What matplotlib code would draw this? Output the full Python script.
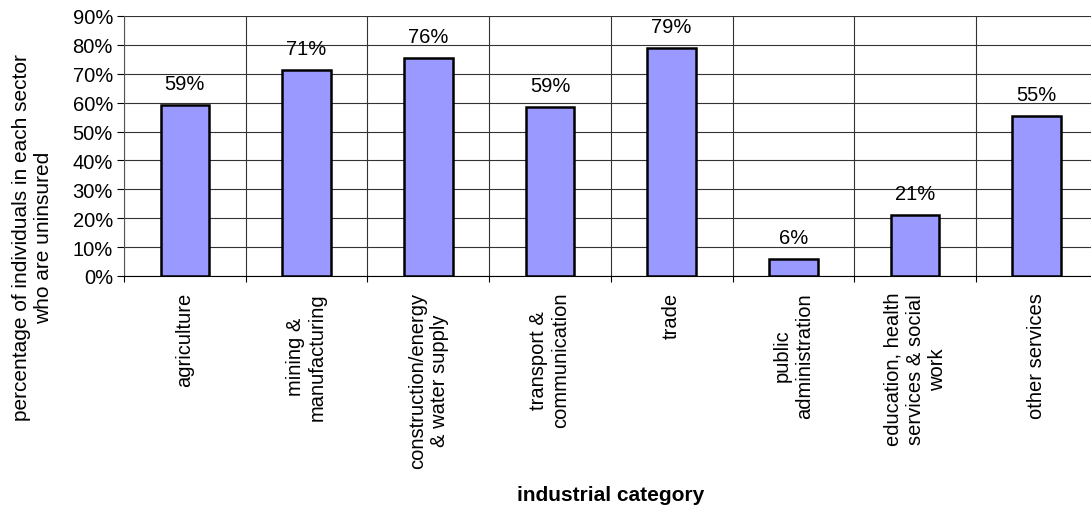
import numpy as np
import matplotlib
matplotlib.use("Agg")
import matplotlib.pyplot as plt
from matplotlib.ticker import PercentFormatter, FixedLocator

plt.rcParams["font.family"] = ["Liberation Sans", "DejaVu Sans"]

categories = [
    "agriculture",
    "mining &\nmanufacturing",
    "construction/energy\n& water supply",
    "transport &\ncommunication",
    "trade",
    "public\nadministration",
    "education, health\nservices & social\nwork",
    "other services",
]
values = [59.2, 71.2, 75.6, 58.6, 78.9, 5.9, 21.1, 55.4]
labels = ["59%", "71%", "76%", "59%", "79%", "6%", "21%", "55%"]

W, H = 1091, 506
fig = plt.figure(figsize=(W / 100, H / 100), dpi=100)
ax = fig.add_axes([124 / W, 1 - 277 / H, (1097.6 - 124) / W, 260 / H])

x = np.arange(len(categories))
ax.bar(x, values, width=0.4, color="#9999FF", edgecolor="black", linewidth=1.8, zorder=3)

for xi, v, lab in zip(x, values, labels):
    ax.annotate(lab, (xi, v), xytext=(0, 11.5), textcoords="offset points",
                ha="center", va="baseline", fontsize=14.5)

ax.set_xlim(-0.5, len(categories) - 0.5)
ax.set_ylim(0, 90)
ax.set_yticks(np.arange(0, 91, 10))
ax.yaxis.set_major_formatter(PercentFormatter(decimals=0))

ax.set_xticks(x)
ax.set_xticklabels(categories, rotation=90, ha="center", va="top", multialignment="center")
ax.xaxis.set_minor_locator(FixedLocator(np.arange(-0.5, len(categories), 1.0)))
ax.tick_params(axis="x", which="major", length=0, pad=11.5, labelsize=14.5)
ax.tick_params(axis="x", which="minor", length=4, width=0.8, direction="out")
ax.tick_params(axis="y", length=5, width=0.8, direction="out", labelsize=14.5, pad=3)

ax.grid(axis="y", which="major", color="#333333", linewidth=0.8, zorder=0)
ax.grid(axis="x", which="minor", color="#333333", linewidth=0.8, zorder=0)
ax.set_axisbelow(True)

for s in ["top", "right"]:
    ax.spines[s].set_visible(False)
ax.spines["left"].set_color("#555555")
ax.spines["bottom"].set_color("black")

fig.text(33 / W, 1 - 238 / H,
         "percentage of individuals in each sector\nwho are uninsured",
         rotation=90, ha="center", va="center", multialignment="center", fontsize=15)
fig.text(610.8 / W, 5 / H, "industrial category", ha="center", va="baseline",
         fontsize=15, fontweight="bold")

fig.savefig("out.png", dpi=100)
